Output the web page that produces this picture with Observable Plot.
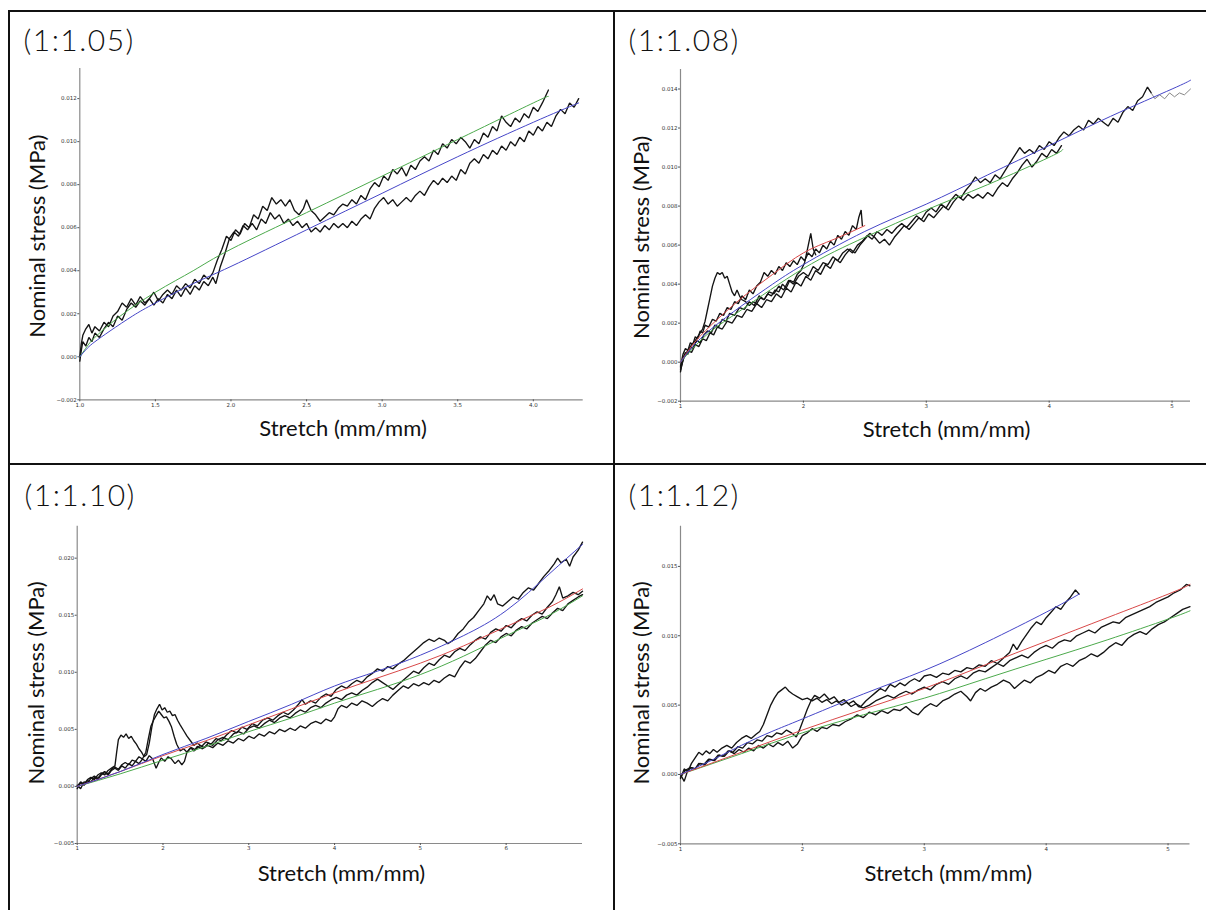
<!DOCTYPE html>
<html><head><meta charset="utf-8">
<script src="https://cdn.jsdelivr.net/npm/d3@7"></script>
<script src="https://cdn.jsdelivr.net/npm/@observablehq/plot@0.6"></script>
<style>
body{margin:0;background:#fff;}
#wrap{position:relative;width:1206px;height:910px;overflow:hidden;background:#fff;}
#wrap svg{position:absolute;}
.ln{position:absolute;background:#111;z-index:5;}
</style></head><body><div id="wrap"></div>
<script>
const panelTitles = ["(1:1.05)", "(1:1.08)", "(1:1.10)", "(1:1.12)"];
const xLabel = "Stretch (mm/mm)";
const yLabel = "Nominal stress (MPa)";

const p1XTicks = [1.0, 1.5, 2.0, 2.5, 3.0, 3.5, 4.0];
const p1YTicks = [-0.002, 0.000, 0.002, 0.004, 0.006, 0.008, 0.010, 0.012];
const p2XTicks = [1, 2, 3, 4, 5];
const p2YTicks = [-0.002, 0.000, 0.002, 0.004, 0.006, 0.008, 0.010, 0.012, 0.014];
const p3XTicks = [1, 2, 3, 4, 5, 6];
const p3YTicks = [-0.005, 0.000, 0.005, 0.010, 0.015, 0.020];
const p4XTicks = [1, 2, 3, 4, 5];
const p4YTicks = [-0.005, 0.000, 0.005, 0.010, 0.015];

// ---------- Panel 1 (1:1.05) ----------
const p1TraceA = [[1.00,0.0000],[1.01,0.0006],[1.02,0.0010],[1.04,0.0013],[1.06,0.0015],[1.08,0.0011],[1.10,0.0014],[1.13,0.0012],[1.16,0.0016],[1.19,0.0014],[1.22,0.0019],[1.25,0.0021],[1.28,0.0025],[1.31,0.0023],[1.34,0.0027],[1.37,0.0024],[1.40,0.0028],[1.43,0.0025],[1.46,0.0027],[1.49,0.0030],[1.52,0.0026],[1.55,0.0029],[1.58,0.0031],[1.61,0.0029],[1.64,0.0033],[1.67,0.0031],[1.70,0.0034],[1.73,0.0032],[1.76,0.0036],[1.79,0.0034],[1.82,0.0038],[1.85,0.0036],[1.88,0.0039],[1.91,0.0045],[1.94,0.0050],[1.97,0.0056],[2.00,0.0054],[2.03,0.0059],[2.06,0.0057],[2.09,0.0062],[2.12,0.0060],[2.15,0.0066],[2.18,0.0064],[2.21,0.0070],[2.24,0.0068],[2.27,0.0074],[2.30,0.0071],[2.33,0.0073],[2.36,0.0070],[2.39,0.0073],[2.42,0.0068],[2.45,0.0066],[2.48,0.0069],[2.50,0.0073],[2.53,0.0068],[2.56,0.0066],[2.59,0.0063],[2.62,0.0065],[2.65,0.0067],[2.68,0.0066],[2.71,0.0069],[2.74,0.0071],[2.77,0.0070],[2.80,0.0073],[2.83,0.0071],[2.86,0.0075],[2.89,0.0073],[2.92,0.0078],[2.95,0.0081],[2.98,0.0079],[3.01,0.0084],[3.04,0.0082],[3.07,0.0087],[3.10,0.0085],[3.13,0.0088],[3.16,0.0084],[3.19,0.0089],[3.22,0.0087],[3.25,0.0091],[3.28,0.0093],[3.31,0.0091],[3.34,0.0096],[3.37,0.0094],[3.40,0.0099],[3.43,0.0097],[3.46,0.0101],[3.49,0.0099],[3.52,0.0102],[3.55,0.0100],[3.58,0.0097],[3.61,0.0101],[3.64,0.0099],[3.67,0.0104],[3.70,0.0102],[3.73,0.0107],[3.76,0.0105],[3.79,0.0112],[3.82,0.0109],[3.85,0.0107],[3.88,0.0111],[3.91,0.0109],[3.94,0.0113],[3.97,0.0111],[4.00,0.0116],[4.03,0.0114],[4.06,0.0118],[4.08,0.0121],[4.10,0.0124]];
const p1TraceB = [[1.00,-0.0002],[1.01,0.0003],[1.02,0.0007],[1.04,0.0005],[1.06,0.0009],[1.08,0.0007],[1.10,0.0011],[1.13,0.0009],[1.16,0.0013],[1.19,0.0016],[1.22,0.0014],[1.25,0.0019],[1.28,0.0017],[1.31,0.0022],[1.34,0.0025],[1.37,0.0023],[1.40,0.0026],[1.43,0.0024],[1.46,0.0027],[1.49,0.0024],[1.52,0.0027],[1.55,0.0025],[1.58,0.0029],[1.61,0.0027],[1.64,0.0031],[1.67,0.0028],[1.70,0.0032],[1.73,0.0029],[1.76,0.0033],[1.79,0.0031],[1.82,0.0035],[1.85,0.0033],[1.88,0.0037],[1.90,0.0034],[1.93,0.0042],[1.96,0.0048],[1.99,0.0055],[2.02,0.0058],[2.05,0.0056],[2.08,0.0061],[2.11,0.0059],[2.14,0.0062],[2.17,0.0059],[2.20,0.0064],[2.23,0.0062],[2.26,0.0067],[2.29,0.0064],[2.32,0.0066],[2.35,0.0062],[2.38,0.0064],[2.41,0.0061],[2.44,0.0063],[2.47,0.0060],[2.50,0.0062],[2.53,0.0058],[2.56,0.0060],[2.59,0.0058],[2.62,0.0061],[2.65,0.0059],[2.68,0.0062],[2.71,0.0060],[2.74,0.0062],[2.77,0.0060],[2.80,0.0063],[2.83,0.0061],[2.86,0.0064],[2.89,0.0066],[2.92,0.0064],[2.95,0.0069],[2.98,0.0072],[3.01,0.0074],[3.04,0.0071],[3.07,0.0073],[3.10,0.0070],[3.13,0.0072],[3.16,0.0074],[3.19,0.0072],[3.22,0.0075],[3.25,0.0077],[3.28,0.0075],[3.31,0.0079],[3.34,0.0082],[3.37,0.0080],[3.40,0.0083],[3.43,0.0081],[3.46,0.0084],[3.49,0.0082],[3.52,0.0087],[3.55,0.0085],[3.58,0.0090],[3.61,0.0092],[3.64,0.0090],[3.67,0.0094],[3.70,0.0092],[3.73,0.0096],[3.76,0.0094],[3.79,0.0098],[3.82,0.0096],[3.85,0.0100],[3.88,0.0098],[3.91,0.0102],[3.94,0.0100],[3.97,0.0105],[4.00,0.0103],[4.03,0.0107],[4.06,0.0105],[4.09,0.0109],[4.12,0.0107],[4.15,0.0112],[4.18,0.0115],[4.21,0.0113],[4.24,0.0118],[4.27,0.0116],[4.30,0.0120]];
const p1FitGreen = [[1.00,0.0000],[1.05,0.0005],[1.10,0.0009],[1.25,0.0018],[1.50,0.0030],[1.75,0.0040],[2.00,0.0050],[2.50,0.0067],[3.00,0.0084],[3.50,0.0101],[4.00,0.0118],[4.10,0.0121]];
const p1FitBlue = [[1.00,0.0000],[1.05,0.0004],[1.10,0.0007],[1.20,0.0012],[1.35,0.0019],[1.50,0.0025],[1.75,0.0034],[2.00,0.0042],[2.50,0.0059],[3.00,0.0076],[3.50,0.0093],[4.00,0.0109],[4.30,0.0118]];

// ---------- Panel 2 (1:1.08) ----------
const p2TraceLong = [[1.00,-0.0005],[1.02,0.0002],[1.04,0.0005],[1.06,0.0004],[1.08,0.0008],[1.10,0.0007],[1.13,0.0011],[1.16,0.0010],[1.19,0.0014],[1.22,0.0016],[1.25,0.0015],[1.28,0.0019],[1.31,0.0018],[1.34,0.0022],[1.37,0.0021],[1.40,0.0025],[1.44,0.0024],[1.48,0.0028],[1.52,0.0027],[1.56,0.0031],[1.60,0.0029],[1.64,0.0034],[1.68,0.0032],[1.72,0.0036],[1.76,0.0035],[1.80,0.0039],[1.84,0.0037],[1.88,0.0042],[1.92,0.0040],[1.96,0.0044],[2.00,0.0046],[2.04,0.0044],[2.08,0.0049],[2.12,0.0047],[2.16,0.0051],[2.20,0.0050],[2.24,0.0054],[2.28,0.0052],[2.32,0.0056],[2.36,0.0058],[2.40,0.0056],[2.44,0.0060],[2.48,0.0062],[2.52,0.0065],[2.56,0.0063],[2.60,0.0067],[2.64,0.0065],[2.68,0.0068],[2.72,0.0066],[2.76,0.0069],[2.80,0.0071],[2.84,0.0069],[2.88,0.0072],[2.92,0.0075],[2.96,0.0073],[3.00,0.0077],[3.04,0.0079],[3.08,0.0077],[3.12,0.0081],[3.16,0.0079],[3.20,0.0083],[3.24,0.0086],[3.28,0.0084],[3.32,0.0088],[3.36,0.0091],[3.40,0.0095],[3.44,0.0092],[3.48,0.0094],[3.52,0.0092],[3.56,0.0096],[3.60,0.0094],[3.64,0.0098],[3.68,0.0102],[3.72,0.0106],[3.76,0.0110],[3.80,0.0107],[3.84,0.0109],[3.88,0.0107],[3.92,0.0111],[3.96,0.0109],[4.00,0.0113],[4.04,0.0111],[4.08,0.0115],[4.12,0.0118],[4.16,0.0116],[4.20,0.0119],[4.24,0.0121],[4.28,0.0119],[4.32,0.0124],[4.36,0.0122],[4.40,0.0125],[4.44,0.0123],[4.48,0.0121],[4.52,0.0125],[4.56,0.0123],[4.60,0.0128],[4.64,0.0131],[4.68,0.0129],[4.72,0.0134],[4.76,0.0136],[4.80,0.0141],[4.83,0.0138]];
const p2TraceTail = [[4.83,0.0138],[4.86,0.0135],[4.90,0.0137],[4.94,0.0135],[4.98,0.0138],[5.02,0.0136],[5.06,0.0138],[5.10,0.0137],[5.15,0.0140]];
const p2TraceMid = [[1.00,-0.0003],[1.03,0.0003],[1.06,0.0006],[1.09,0.0005],[1.12,0.0009],[1.15,0.0008],[1.18,0.0012],[1.21,0.0011],[1.24,0.0015],[1.27,0.0014],[1.30,0.0018],[1.34,0.0017],[1.38,0.0021],[1.42,0.0020],[1.46,0.0024],[1.50,0.0023],[1.54,0.0027],[1.58,0.0026],[1.62,0.0030],[1.66,0.0028],[1.70,0.0032],[1.74,0.0031],[1.78,0.0035],[1.82,0.0033],[1.86,0.0038],[1.90,0.0036],[1.94,0.0041],[1.98,0.0039],[2.02,0.0044],[2.06,0.0042],[2.10,0.0047],[2.14,0.0045],[2.18,0.0050],[2.22,0.0048],[2.26,0.0053],[2.30,0.0051],[2.34,0.0055],[2.38,0.0058],[2.42,0.0056],[2.46,0.0060],[2.50,0.0063],[2.54,0.0066],[2.58,0.0064],[2.62,0.0061],[2.66,0.0063],[2.70,0.0060],[2.74,0.0064],[2.78,0.0067],[2.82,0.0070],[2.86,0.0068],[2.90,0.0071],[2.94,0.0074],[2.98,0.0072],[3.02,0.0076],[3.06,0.0074],[3.10,0.0077],[3.14,0.0080],[3.18,0.0078],[3.22,0.0082],[3.26,0.0085],[3.30,0.0083],[3.34,0.0086],[3.38,0.0084],[3.42,0.0086],[3.46,0.0084],[3.50,0.0087],[3.54,0.0085],[3.58,0.0089],[3.62,0.0092],[3.66,0.0090],[3.70,0.0094],[3.74,0.0097],[3.78,0.0101],[3.82,0.0104],[3.86,0.0100],[3.90,0.0103],[3.94,0.0107],[3.98,0.0105],[4.02,0.0109],[4.06,0.0107],[4.10,0.0111]];
const p2TraceShort = [[1.00,-0.0002],[1.02,0.0004],[1.04,0.0007],[1.06,0.0006],[1.08,0.0010],[1.10,0.0009],[1.12,0.0013],[1.14,0.0012],[1.16,0.0016],[1.18,0.0015],[1.20,0.0019],[1.23,0.0018],[1.26,0.0022],[1.29,0.0021],[1.32,0.0025],[1.35,0.0024],[1.38,0.0028],[1.41,0.0027],[1.44,0.0031],[1.47,0.0030],[1.50,0.0034],[1.53,0.0032],[1.56,0.0037],[1.59,0.0035],[1.62,0.0039],[1.65,0.0041],[1.68,0.0046],[1.71,0.0044],[1.74,0.0047],[1.77,0.0045],[1.80,0.0049],[1.83,0.0047],[1.86,0.0051],[1.89,0.0049],[1.92,0.0052],[1.95,0.0050],[1.98,0.0054],[2.01,0.0052],[2.04,0.0056],[2.07,0.0054],[2.10,0.0058],[2.13,0.0056],[2.16,0.0060],[2.19,0.0058],[2.22,0.0062],[2.25,0.0060],[2.28,0.0065],[2.31,0.0063],[2.34,0.0067],[2.37,0.0065],[2.40,0.0070],[2.43,0.0068],[2.45,0.0074],[2.47,0.0078],[2.48,0.0070]];
const p2TraceHump = [[1.00,-0.0004],[1.03,0.0003],[1.06,0.0005],[1.09,0.0009],[1.12,0.0011],[1.15,0.0014],[1.18,0.0017],[1.20,0.0021],[1.22,0.0027],[1.24,0.0033],[1.26,0.0039],[1.28,0.0043],[1.30,0.0046],[1.32,0.0045],[1.34,0.0046],[1.36,0.0043],[1.38,0.0044],[1.40,0.0040],[1.42,0.0036],[1.44,0.0034],[1.46,0.0037],[1.48,0.0034],[1.50,0.0032],[1.53,0.0031],[1.56,0.0029],[1.59,0.0031],[1.62,0.0030],[1.65,0.0033],[1.68,0.0032],[1.71,0.0035],[1.74,0.0034],[1.77,0.0037],[1.80,0.0036],[1.83,0.0040],[1.86,0.0038],[1.89,0.0042],[1.92,0.0041],[1.95,0.0045],[1.98,0.0047],[2.01,0.0051],[2.04,0.0060],[2.06,0.0066],[2.08,0.0058],[2.10,0.0055]];
const p2FitBlue = [[1.00,0.0000],[1.10,0.0008],[1.25,0.0017],[1.50,0.0029],[1.75,0.0040],[2.00,0.0050],[2.50,0.0067],[3.00,0.0081],[3.50,0.0096],[4.00,0.0111],[4.50,0.0126],[5.00,0.0140],[5.15,0.01445]];
const p2FitGreen = [[1.00,0.0000],[1.10,0.0007],[1.25,0.0016],[1.50,0.0027],[2.00,0.0048],[2.50,0.0064],[3.00,0.0078],[3.50,0.0091],[4.00,0.0105],[4.11,0.0109]];
const p2FitRed = [[1.00,0.0000],[1.10,0.0009],[1.25,0.0019],[1.50,0.0033],[1.75,0.0045],[2.00,0.0056],[2.25,0.0063],[2.50,0.0070]];

// ---------- Panel 3 (1:1.10) ----------
const p3TraceUpper = [[1.00,0.0000],[1.04,0.0004],[1.08,0.0002],[1.12,0.0006],[1.16,0.0008],[1.20,0.0006],[1.24,0.0010],[1.28,0.0012],[1.32,0.0010],[1.36,0.0014],[1.40,0.0016],[1.44,0.0018],[1.46,0.0030],[1.48,0.0041],[1.51,0.0045],[1.54,0.0043],[1.57,0.0046],[1.60,0.0042],[1.63,0.0044],[1.66,0.0040],[1.69,0.0037],[1.72,0.0033],[1.75,0.0030],[1.78,0.0026],[1.81,0.0028],[1.84,0.0038],[1.87,0.0052],[1.90,0.0063],[1.93,0.0068],[1.96,0.0072],[1.99,0.0067],[2.02,0.0069],[2.05,0.0065],[2.08,0.0066],[2.11,0.0062],[2.14,0.0063],[2.17,0.0058],[2.20,0.0054],[2.24,0.0049],[2.28,0.0044],[2.32,0.0040],[2.36,0.0036],[2.40,0.0038],[2.45,0.0035],[2.50,0.0039],[2.56,0.0037],[2.62,0.0042],[2.68,0.0040],[2.74,0.0045],[2.80,0.0049],[2.86,0.0047],[2.92,0.0052],[2.98,0.0050],[3.04,0.0055],[3.10,0.0053],[3.16,0.0058],[3.22,0.0060],[3.28,0.0058],[3.34,0.0062],[3.40,0.0065],[3.46,0.0063],[3.52,0.0067],[3.58,0.0072],[3.62,0.0076],[3.66,0.0072],[3.72,0.0075],[3.78,0.0073],[3.84,0.0078],[3.90,0.0081],[3.96,0.0079],[4.02,0.0085],[4.08,0.0088],[4.14,0.0086],[4.20,0.0090],[4.26,0.0093],[4.32,0.0091],[4.38,0.0096],[4.44,0.0099],[4.50,0.0103],[4.56,0.0101],[4.62,0.0105],[4.68,0.0103],[4.74,0.0107],[4.80,0.0110],[4.86,0.0114],[4.92,0.0118],[4.98,0.0122],[5.04,0.0126],[5.10,0.0129],[5.16,0.0127],[5.22,0.0130],[5.28,0.0128],[5.32,0.0125],[5.38,0.0128],[5.44,0.0134],[5.50,0.0138],[5.56,0.0144],[5.62,0.0148],[5.68,0.0154],[5.74,0.0160],[5.78,0.0167],[5.82,0.0163],[5.86,0.0168],[5.90,0.0160],[5.96,0.0158],[6.02,0.0162],[6.08,0.0166],[6.14,0.0164],[6.20,0.0170],[6.26,0.0174],[6.32,0.0172],[6.38,0.0178],[6.44,0.0184],[6.50,0.0189],[6.56,0.0195],[6.60,0.0200],[6.64,0.0196],[6.70,0.0199],[6.74,0.0193],[6.78,0.0201],[6.84,0.0207],[6.89,0.0214]];
const p3TraceMid = [[1.00,0.0001],[1.04,-0.0002],[1.08,0.0004],[1.12,0.0003],[1.16,0.0007],[1.20,0.0009],[1.24,0.0007],[1.28,0.0011],[1.32,0.0013],[1.36,0.0011],[1.40,0.0015],[1.44,0.0017],[1.48,0.0015],[1.52,0.0019],[1.56,0.0021],[1.60,0.0019],[1.64,0.0023],[1.68,0.0022],[1.72,0.0026],[1.76,0.0024],[1.80,0.0030],[1.83,0.0042],[1.86,0.0053],[1.89,0.0058],[1.92,0.0062],[1.95,0.0066],[1.98,0.0063],[2.01,0.0060],[2.04,0.0061],[2.07,0.0057],[2.10,0.0052],[2.13,0.0044],[2.16,0.0037],[2.20,0.0031],[2.24,0.0033],[2.28,0.0030],[2.33,0.0034],[2.38,0.0032],[2.43,0.0036],[2.48,0.0034],[2.53,0.0038],[2.58,0.0036],[2.64,0.0041],[2.70,0.0043],[2.76,0.0041],[2.82,0.0046],[2.88,0.0048],[2.94,0.0046],[3.00,0.0051],[3.06,0.0053],[3.12,0.0051],[3.18,0.0055],[3.24,0.0058],[3.30,0.0056],[3.36,0.0060],[3.42,0.0062],[3.48,0.0060],[3.54,0.0064],[3.60,0.0067],[3.66,0.0065],[3.72,0.0069],[3.78,0.0071],[3.84,0.0069],[3.90,0.0073],[3.96,0.0076],[4.02,0.0078],[4.08,0.0076],[4.14,0.0080],[4.20,0.0082],[4.26,0.0080],[4.32,0.0084],[4.38,0.0087],[4.44,0.0091],[4.50,0.0094],[4.56,0.0091],[4.62,0.0088],[4.68,0.0085],[4.74,0.0089],[4.80,0.0093],[4.86,0.0097],[4.92,0.0101],[4.98,0.0099],[5.04,0.0104],[5.10,0.0108],[5.16,0.0106],[5.22,0.0111],[5.28,0.0115],[5.34,0.0113],[5.40,0.0118],[5.46,0.0121],[5.52,0.0119],[5.58,0.0124],[5.64,0.0128],[5.70,0.0131],[5.76,0.0129],[5.82,0.0135],[5.88,0.0138],[5.94,0.0136],[6.00,0.0141],[6.06,0.0139],[6.12,0.0144],[6.18,0.0147],[6.24,0.0145],[6.30,0.0150],[6.36,0.0153],[6.42,0.0151],[6.48,0.0157],[6.54,0.0162],[6.58,0.0168],[6.62,0.0175],[6.66,0.0165],[6.72,0.0167],[6.78,0.0170],[6.84,0.0168],[6.89,0.0171]];
const p3TraceLower = [[1.00,-0.0002],[1.04,0.0003],[1.08,0.0001],[1.12,0.0005],[1.16,0.0004],[1.20,0.0008],[1.24,0.0006],[1.28,0.0010],[1.32,0.0012],[1.36,0.0010],[1.40,0.0014],[1.44,0.0016],[1.48,0.0014],[1.52,0.0018],[1.56,0.0016],[1.60,0.0020],[1.64,0.0018],[1.68,0.0022],[1.72,0.0020],[1.76,0.0024],[1.80,0.0022],[1.84,0.0027],[1.88,0.0024],[1.92,0.0016],[1.95,0.0021],[1.98,0.0025],[2.02,0.0022],[2.06,0.0026],[2.10,0.0024],[2.14,0.0020],[2.18,0.0023],[2.22,0.0019],[2.25,0.0022],[2.28,0.0030],[2.32,0.0034],[2.36,0.0031],[2.40,0.0035],[2.46,0.0033],[2.52,0.0036],[2.58,0.0034],[2.64,0.0038],[2.70,0.0036],[2.76,0.0040],[2.82,0.0038],[2.88,0.0042],[2.94,0.0040],[3.00,0.0044],[3.06,0.0042],[3.12,0.0046],[3.18,0.0044],[3.24,0.0048],[3.30,0.0046],[3.36,0.0050],[3.42,0.0048],[3.48,0.0051],[3.54,0.0049],[3.60,0.0053],[3.66,0.0051],[3.72,0.0055],[3.78,0.0057],[3.84,0.0055],[3.90,0.0059],[3.96,0.0057],[4.00,0.0061],[4.04,0.0068],[4.08,0.0071],[4.14,0.0069],[4.20,0.0073],[4.26,0.0071],[4.32,0.0075],[4.38,0.0073],[4.44,0.0070],[4.50,0.0074],[4.56,0.0077],[4.62,0.0075],[4.68,0.0080],[4.74,0.0084],[4.80,0.0088],[4.86,0.0086],[4.92,0.0090],[4.98,0.0088],[5.04,0.0091],[5.10,0.0089],[5.16,0.0093],[5.22,0.0091],[5.28,0.0095],[5.34,0.0098],[5.40,0.0096],[5.46,0.0104],[5.52,0.0110],[5.58,0.0108],[5.64,0.0112],[5.70,0.0118],[5.76,0.0124],[5.82,0.0128],[5.88,0.0126],[5.94,0.0131],[6.00,0.0134],[6.06,0.0132],[6.12,0.0137],[6.18,0.0140],[6.24,0.0138],[6.30,0.0143],[6.36,0.0146],[6.42,0.0149],[6.48,0.0147],[6.54,0.0152],[6.60,0.0156],[6.66,0.0154],[6.72,0.0160],[6.78,0.0163],[6.84,0.0166],[6.89,0.0168]];
const p3FitBlue = [[1.00,0.0000],[1.50,0.0013],[2.00,0.0028],[2.50,0.0042],[3.00,0.0057],[3.50,0.0072],[4.00,0.0088],[4.50,0.0101],[5.00,0.0115],[5.50,0.0132],[6.00,0.0154],[6.50,0.0186],[6.89,0.0212]];
const p3FitRed = [[1.00,0.0000],[1.50,0.0013],[2.00,0.0027],[2.50,0.0040],[3.00,0.0054],[3.50,0.0068],[4.00,0.0082],[4.50,0.0095],[5.00,0.0108],[5.50,0.0123],[6.00,0.0140],[6.50,0.0157],[6.89,0.0173]];
const p3FitGreen = [[1.00,0.0000],[1.50,0.0011],[2.00,0.0023],[2.50,0.0035],[3.00,0.0048],[3.50,0.0060],[4.00,0.0073],[4.50,0.0085],[5.00,0.0098],[5.50,0.0114],[6.00,0.0132],[6.50,0.0150],[6.89,0.0167]];

// ---------- Panel 4 (1:1.12) ----------
const p4TraceUpper = [[1.00,-0.0003],[1.03,0.0004],[1.06,0.0002],[1.09,0.0008],[1.12,0.0012],[1.15,0.0016],[1.18,0.0014],[1.21,0.0017],[1.24,0.0015],[1.27,0.0018],[1.30,0.0016],[1.34,0.0019],[1.38,0.0021],[1.42,0.0019],[1.46,0.0023],[1.50,0.0026],[1.54,0.0028],[1.58,0.0026],[1.62,0.0029],[1.65,0.0031],[1.68,0.0036],[1.71,0.0043],[1.74,0.0050],[1.77,0.0055],[1.80,0.0059],[1.83,0.0061],[1.86,0.0063],[1.89,0.0060],[1.92,0.0058],[1.96,0.0056],[2.00,0.0054],[2.04,0.0055],[2.08,0.0053],[2.12,0.0055],[2.16,0.0052],[2.20,0.0054],[2.24,0.0051],[2.28,0.0053],[2.32,0.0050],[2.36,0.0052],[2.40,0.0049],[2.44,0.0051],[2.48,0.0049],[2.52,0.0053],[2.56,0.0056],[2.60,0.0059],[2.64,0.0062],[2.68,0.0060],[2.72,0.0065],[2.76,0.0063],[2.80,0.0066],[2.84,0.0064],[2.88,0.0067],[2.92,0.0069],[2.96,0.0067],[3.00,0.0071],[3.05,0.0072],[3.10,0.0070],[3.15,0.0073],[3.20,0.0072],[3.25,0.0075],[3.30,0.0074],[3.35,0.0077],[3.40,0.0076],[3.45,0.0079],[3.50,0.0078],[3.55,0.0082],[3.60,0.0080],[3.65,0.0084],[3.70,0.0088],[3.73,0.0094],[3.76,0.0090],[3.80,0.0096],[3.84,0.0101],[3.88,0.0106],[3.92,0.0110],[3.96,0.0108],[4.00,0.0113],[4.04,0.0117],[4.08,0.0121],[4.12,0.0119],[4.16,0.0124],[4.20,0.0128],[4.24,0.0133],[4.27,0.0130]];
const p4TraceMid = [[1.00,0.0000],[1.03,-0.0005],[1.06,0.0003],[1.09,0.0005],[1.12,0.0004],[1.15,0.0008],[1.19,0.0007],[1.23,0.0011],[1.27,0.0010],[1.31,0.0014],[1.35,0.0013],[1.39,0.0017],[1.43,0.0016],[1.47,0.0020],[1.51,0.0019],[1.55,0.0023],[1.59,0.0022],[1.63,0.0025],[1.67,0.0024],[1.71,0.0028],[1.75,0.0027],[1.79,0.0030],[1.83,0.0029],[1.87,0.0032],[1.91,0.0030],[1.95,0.0027],[1.98,0.0033],[2.01,0.0040],[2.04,0.0047],[2.07,0.0053],[2.10,0.0057],[2.14,0.0055],[2.18,0.0058],[2.22,0.0054],[2.26,0.0056],[2.30,0.0052],[2.34,0.0054],[2.38,0.0051],[2.42,0.0053],[2.46,0.0049],[2.50,0.0048],[2.55,0.0050],[2.60,0.0053],[2.65,0.0055],[2.70,0.0057],[2.75,0.0055],[2.80,0.0058],[2.85,0.0060],[2.90,0.0058],[2.95,0.0061],[3.00,0.0063],[3.05,0.0061],[3.10,0.0065],[3.15,0.0067],[3.20,0.0065],[3.25,0.0069],[3.30,0.0071],[3.35,0.0069],[3.40,0.0073],[3.45,0.0075],[3.50,0.0074],[3.55,0.0077],[3.60,0.0080],[3.65,0.0078],[3.70,0.0082],[3.75,0.0084],[3.80,0.0086],[3.85,0.0084],[3.90,0.0088],[3.95,0.0091],[4.00,0.0093],[4.05,0.0091],[4.10,0.0095],[4.15,0.0097],[4.20,0.0096],[4.25,0.0100],[4.30,0.0102],[4.35,0.0104],[4.40,0.0102],[4.45,0.0106],[4.50,0.0108],[4.55,0.0110],[4.60,0.0109],[4.65,0.0113],[4.70,0.0115],[4.75,0.0117],[4.80,0.0119],[4.85,0.0121],[4.90,0.0124],[4.95,0.0126],[5.00,0.0128],[5.05,0.0131],[5.10,0.0133],[5.15,0.0137],[5.18,0.0136]];
const p4TraceLower = [[1.00,-0.0002],[1.04,0.0003],[1.08,0.0005],[1.12,0.0004],[1.16,0.0008],[1.20,0.0007],[1.24,0.0011],[1.28,0.0010],[1.32,0.0014],[1.36,0.0013],[1.40,0.0017],[1.44,0.0015],[1.48,0.0018],[1.52,0.0016],[1.56,0.0019],[1.60,0.0017],[1.64,0.0021],[1.68,0.0019],[1.72,0.0022],[1.76,0.0020],[1.80,0.0023],[1.84,0.0021],[1.88,0.0024],[1.92,0.0019],[1.96,0.0022],[2.00,0.0028],[2.04,0.0030],[2.08,0.0033],[2.12,0.0031],[2.16,0.0034],[2.20,0.0033],[2.25,0.0036],[2.30,0.0035],[2.35,0.0038],[2.40,0.0040],[2.45,0.0043],[2.50,0.0041],[2.55,0.0045],[2.60,0.0043],[2.65,0.0046],[2.70,0.0044],[2.75,0.0047],[2.80,0.0046],[2.85,0.0049],[2.90,0.0045],[2.95,0.0043],[3.00,0.0048],[3.05,0.0051],[3.10,0.0049],[3.15,0.0053],[3.20,0.0055],[3.25,0.0058],[3.30,0.0060],[3.35,0.0056],[3.38,0.0053],[3.42,0.0059],[3.46,0.0062],[3.50,0.0060],[3.55,0.0063],[3.60,0.0065],[3.65,0.0068],[3.70,0.0066],[3.74,0.0062],[3.78,0.0065],[3.82,0.0068],[3.87,0.0066],[3.92,0.0070],[3.97,0.0072],[4.02,0.0075],[4.07,0.0073],[4.12,0.0078],[4.17,0.0080],[4.22,0.0078],[4.27,0.0082],[4.32,0.0084],[4.37,0.0087],[4.42,0.0085],[4.47,0.0088],[4.52,0.0092],[4.57,0.0095],[4.62,0.0093],[4.67,0.0098],[4.72,0.0101],[4.77,0.0103],[4.82,0.0101],[4.87,0.0105],[4.92,0.0108],[4.97,0.0110],[5.02,0.0113],[5.07,0.0116],[5.12,0.0119],[5.18,0.0121]];
const p4FitBlue = [[1.00,0.0000],[1.25,0.0010],[1.50,0.0021],[1.75,0.0031],[2.00,0.0040],[2.50,0.0058],[3.00,0.0075],[3.50,0.0095],[4.00,0.0117],[4.27,0.0130]];
const p4FitRed = [[1.00,0.0000],[1.50,0.0016],[2.00,0.0032],[2.50,0.0047],[3.00,0.0062],[3.50,0.0079],[4.00,0.0096],[4.50,0.0113],[5.00,0.0130],[5.18,0.0137]];
const p4FitGreen = [[1.00,0.0000],[1.50,0.0015],[2.00,0.0030],[2.50,0.0043],[3.00,0.0055],[3.50,0.0069],[4.00,0.0083],[4.50,0.0097],[5.00,0.0112],[5.18,0.0118]];

const BLUE = "#4646c8", GREEN = "#4caa4c", RED = "#d84848", INK = "#141414";

const panels = [
  {title: panelTitles[0], box: [10, 12, 603, 451], m: [56, 30.3, 63.7, 69.3], xDomain: [1, 4.33], yDomain: [-0.002, 0.0134],
   xTicks: p1XTicks, yTicks: p1YTicks, xFmt: d3.format(".1f"), titleD: [-56.3, -18], yLabD: [-42.3, 2], xLabD: [11.5, 29],
   traces: [p1TraceA, p1TraceB], gray: [], fits: [[p1FitGreen, GREEN], [p1FitBlue, BLUE]]},
  {title: panelTitles[1], box: [615, 12, 591, 451], m: [57, 16, 62.3, 65], xDomain: [1, 5.15], yDomain: [-0.002, 0.0150],
   xTicks: p2XTicks, yTicks: p2YTicks, xFmt: d3.format("d"), titleD: [-52, -19], yLabD: [-39, 2], xLabD: [11, 29],
   traces: [p2TraceLong, p2TraceMid, p2TraceShort, p2TraceHump], gray: [p2TraceTail], fits: [[p2FitGreen, GREEN], [p2FitRed, RED], [p2FitBlue, BLUE]]},
  {title: panelTitles[2], box: [10, 465, 603, 445], m: [60.7, 31, 67, 66.7], xDomain: [1, 6.89], yDomain: [-0.005, 0.0228],
   xTicks: p3XTicks, yTicks: p3YTicks, xFmt: d3.format("d"), titleD: [-52.7, -20.7], yLabD: [-40.2, -2], xLabD: [11.6, 30],
   traces: [p3TraceUpper, p3TraceMid, p3TraceLower], gray: [], fits: [[p3FitGreen, GREEN], [p3FitRed, RED], [p3FitBlue, BLUE]]},
  {title: panelTitles[3], box: [615, 465, 591, 445], m: [60.7, 16.5, 66.7, 65], xDomain: [1, 5.18], yDomain: [-0.005, 0.0179],
   xTicks: p4XTicks, yTicks: p4YTicks, xFmt: d3.format("d"), titleD: [-52, -20.7], yLabD: [-39, -2], xLabD: [13, 30],
   traces: [p4TraceUpper, p4TraceMid, p4TraceLower], gray: [], fits: [[p4FitGreen, GREEN], [p4FitRed, RED], [p4FitBlue, BLUE]]}
];

const wrap = document.getElementById("wrap");
for (const p of panels) {
  const [left, top, width, height] = p.box;
  const [mt, mr, mb, ml] = p.m;
  const marks = [
    Plot.ruleX([p.xDomain[0]], {stroke: "#8a8a8a", strokeWidth: 1.2}),
    Plot.ruleY([p.yDomain[0]], {stroke: "#8a8a8a", strokeWidth: 1.2}),
    Plot.axisY({ticks: p.yTicks, tickFormat: d3.format(".3f"), tickSize: 2, tickPadding: 1, fontSize: 5.5, fontFamily: "DejaVu Sans", stroke: "#555", fill: "#333"}),
    Plot.axisX({ticks: p.xTicks, tickFormat: p.xFmt, tickSize: 2, tickPadding: 1, fontSize: 5.5, fontFamily: "DejaVu Sans", stroke: "#555", fill: "#333"}),
    ...p.traces.map(t => Plot.line(t, {stroke: INK, strokeWidth: 1.35, strokeLinejoin: "miter"})),
    ...p.gray.map(t => Plot.line(t, {stroke: "#7a7a7a", strokeWidth: 0.9})),
    ...p.fits.map(([f, c]) => Plot.line(f, {stroke: c, strokeWidth: 1, curve: "natural"})),
    Plot.text([p.title], {frameAnchor: "top-left", dx: p.titleD[0], dy: p.titleD[1], textAnchor: "start", lineAnchor: "bottom", fontSize: 30, fontWeight: 300, fontFamily: "Lato", fill: "#111"}),
    Plot.text([yLabel], {frameAnchor: "left", dx: p.yLabD[0], dy: p.yLabD[1], rotate: -90, textAnchor: "middle", lineAnchor: "middle", fontSize: 22, fontFamily: "Lato", fill: "#111"}),
    Plot.text([xLabel], {frameAnchor: "bottom", dx: p.xLabD[0], dy: p.xLabD[1], textAnchor: "middle", lineAnchor: "middle", fontSize: 22, fontFamily: "Lato", fill: "#111"})
  ];
  const svg = Plot.plot({
    width, height, marginTop: mt, marginRight: mr, marginBottom: mb, marginLeft: ml,
    style: {background: "transparent", overflow: "visible"},
    x: {domain: p.xDomain},
    y: {domain: p.yDomain},
    marks
  });
  svg.style.left = left + "px";
  svg.style.top = top + "px";
  svg.querySelectorAll("text").forEach(t => { if (panelTitles.includes(t.textContent)) t.setAttribute("letter-spacing", "1.5"); });
  wrap.appendChild(svg);
}
// panel borders
for (const [l, t, w, h] of [[8, 10, 1198, 2], [8, 10, 2, 900], [613, 10, 2, 900], [8, 463, 1198, 2]]) {
  const d = document.createElement("div");
  d.className = "ln";
  Object.assign(d.style, {left: l + "px", top: t + "px", width: w + "px", height: h + "px"});
  wrap.appendChild(d);
}
</script></body></html>
